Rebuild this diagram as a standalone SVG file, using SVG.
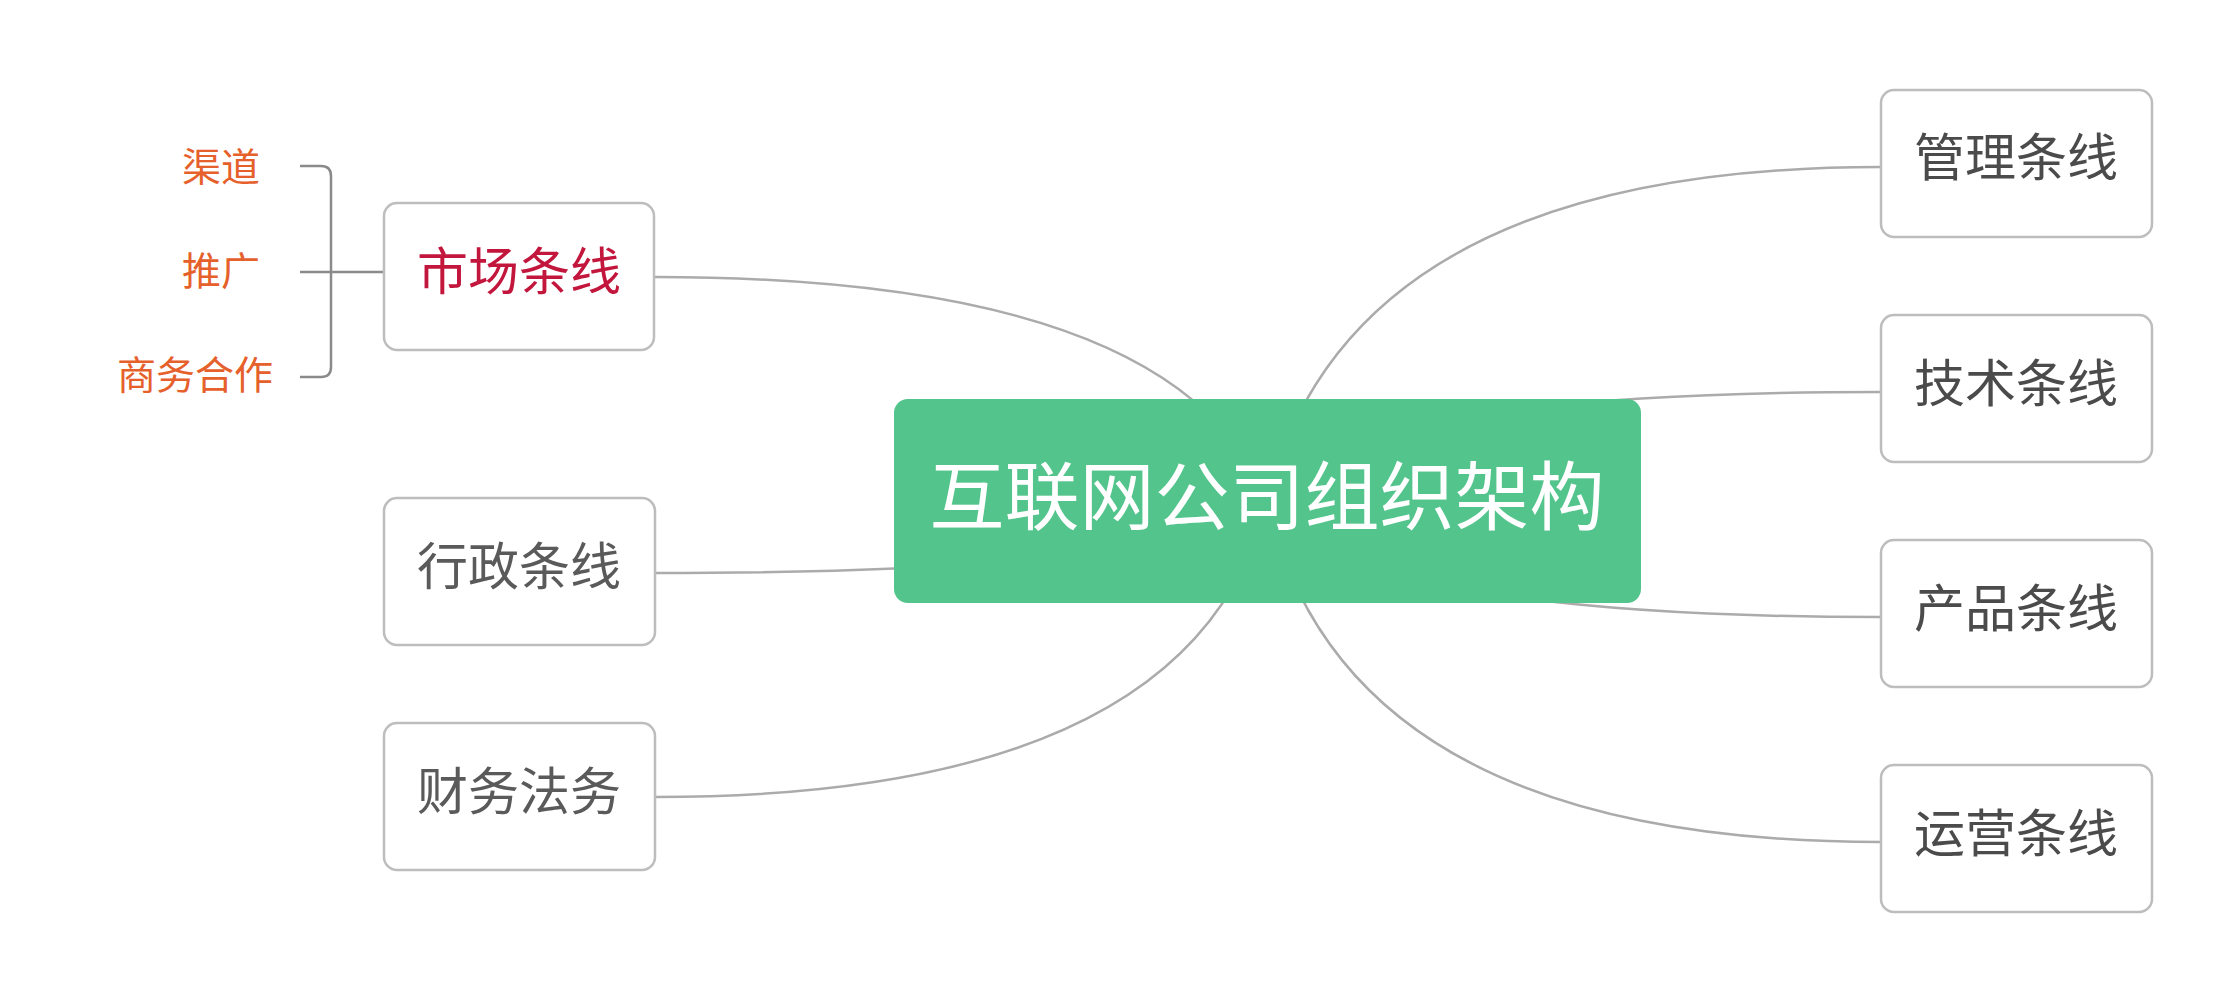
<svg xmlns="http://www.w3.org/2000/svg" width="2240" height="1002" viewBox="0 0 2240 1002">
<style>
.conn{fill:none;stroke:#ababab;stroke-width:2.5}
.brk{fill:none;stroke:#8a8a8a;stroke-width:2.5}
.box{fill:#ffffff;stroke:#bdbdbd;stroke-width:2.5}
.t{font-family:"Noto Sans CJK SC","Noto Sans",sans-serif;dominant-baseline:central;text-anchor:middle}
.lbl{font-size:51px;fill:#5a5a5a}
.rl{fill:#4b4b4b}
.sub{font-size:39px;fill:#e6602b;text-anchor:start}
</style>
<rect width="2240" height="1002" fill="#ffffff"/>
<g id="connectors">
<path class="conn" d="M655,277 Q1180,277 1267,501"/>
<path class="conn" d="M655,573 Q1187,573 1267,501"/>
<path class="conn" d="M655,797 Q1195,797 1267,501"/>
<path class="conn" d="M1881,167 Q1350,167 1267,501"/>
<path class="conn" d="M1881,392 Q1331,392 1267,501"/>
<path class="conn" d="M1881,617 Q1345,617 1267,501"/>
<path class="conn" d="M1881,842 Q1344,842 1267,501"/>
<path class="brk" d="M300,166 H321 Q331,166 331,176 V367 Q331,377 321,377 H300 M300,272 H384"/>
</g>
<g id="center">
<rect x="894" y="399" width="747" height="204" rx="14" fill="#52c48c"/>
<text class="t" x="1267" y="491" font-size="75" fill="#ffffff">互联网公司组织架构</text>
</g>
<g id="market">
<rect class="box" x="384" y="203" width="270" height="147" rx="13"/>
<text class="t" x="519" y="268" font-size="51" fill="#c2163d">市场条线</text>
</g>
<g id="admin">
<rect class="box" x="384" y="498" width="271" height="147" rx="13"/>
<text class="t lbl" x="519" y="563">行政条线</text>
</g>
<g id="finance">
<rect class="box" x="384" y="723" width="271" height="147" rx="13"/>
<text class="t lbl" x="519" y="788">财务法务</text>
</g>
<g id="mgmt">
<rect class="box" x="1881" y="90" width="271" height="147" rx="13"/>
<text class="t lbl rl" x="2016" y="154">管理条线</text>
</g>
<g id="tech">
<rect class="box" x="1881" y="315" width="271" height="147" rx="13"/>
<text class="t lbl rl" x="2016" y="380">技术条线</text>
</g>
<g id="product">
<rect class="box" x="1881" y="540" width="271" height="147" rx="13"/>
<text class="t lbl rl" x="2016" y="605">产品条线</text>
</g>
<g id="ops">
<rect class="box" x="1881" y="765" width="271" height="147" rx="13"/>
<text class="t lbl rl" x="2016" y="830">运营条线</text>
</g>
<g id="sub-channel"><text class="t sub" x="182" y="164">渠道</text></g>
<g id="sub-promo"><text class="t sub" x="182" y="268">推广</text></g>
<g id="sub-biz"><text class="t sub" x="117" y="372">商务合作</text></g>
</svg>
